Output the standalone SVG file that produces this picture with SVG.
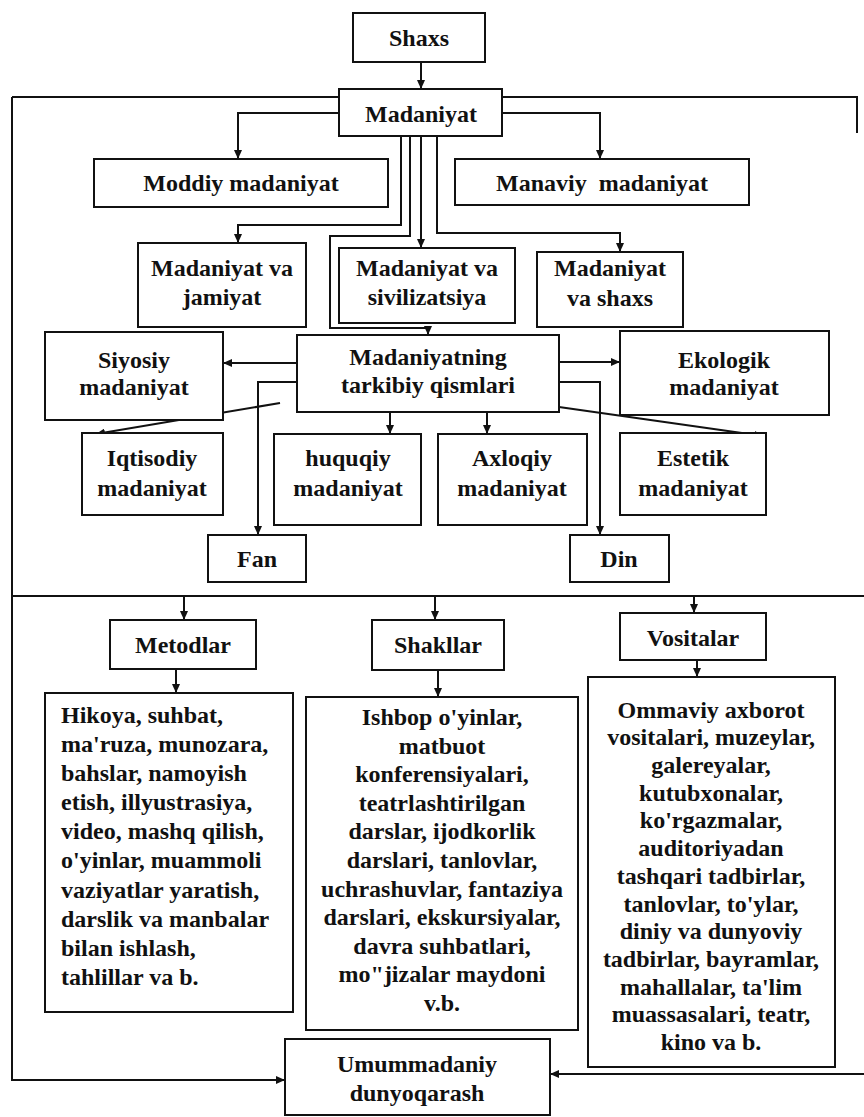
<svg xmlns="http://www.w3.org/2000/svg" width="864" height="1117" viewBox="0 0 864 1117">
<defs>
<marker id="ah" markerUnits="userSpaceOnUse" markerWidth="9" markerHeight="8" refX="9" refY="4" orient="auto">
<path d="M0,0 L9,4 L0,8 z" fill="#111"/>
</marker>
<style>
.b{fill:#fff;stroke:#111;stroke-width:2}
.t{font-family:"Liberation Serif","Times New Roman",serif;font-weight:bold;font-size:24px;fill:#111;text-anchor:middle}
.l{text-anchor:start}
.c{fill:none;stroke:#111;stroke-width:2}
.a{marker-end:url(#ah)}
</style>
</defs>
<rect width="864" height="1117" fill="#fff"/>
<g id="connectors">
<path class="c a" d="M421,62 V89"/>
<path class="c" d="M12,97 H339 M502,97 H857 V133"/>
<path class="c a" d="M12,97 V1080 H285"/>
<path class="c a" d="M339,113 H238 V159"/>
<path class="c a" d="M502,113 H600 V159"/>
<path class="c a" d="M401,136 V225 H238 V243"/>
<path class="c a" d="M410,136 V236 H330 V328 H428 V335"/>
<path class="c a" d="M421,136 V248"/>
<path class="c a" d="M437,136 V233 H620 V252"/>
<path class="c a" d="M297,363 H223"/>
<path class="c a" d="M559,362 H620"/>
<path class="c a" d="M297,382 H258 V535"/>
<path class="c a" d="M559,382 H600 V535"/>
<path class="c a" d="M280,403 L96,434"/>
<path class="c a" d="M559,407 L763,436"/>
<path class="c a" d="M390,412 V434"/>
<path class="c a" d="M487,412 V434"/>
<path class="c" d="M12,596 H864"/>
<path class="c a" d="M184,596 V620"/>
<path class="c a" d="M435,596 V620"/>
<path class="c a" d="M694,596 V613"/>
<path class="c a" d="M176,669 V693"/>
<path class="c a" d="M438,670 V697"/>
<path class="c a" d="M697,660 V677"/>
<path class="c a" d="M864,1074 H550"/>
</g>
<g id="shaxs"><rect class="b" x="353" y="13" width="132" height="49"/><text class="t" x="419" y="46">Shaxs</text></g>
<g id="madaniyat"><rect class="b" x="339" y="89" width="163" height="47"/><text class="t" x="421" y="122">Madaniyat</text></g>
<g id="moddiy"><rect class="b" x="94" y="159" width="294" height="48"/><text class="t" x="241" y="191">Moddiy madaniyat</text></g>
<g id="manaviy"><rect class="b" x="455" y="159" width="294" height="46"/><text class="t" x="602" y="191" style="white-space:pre">Manaviy  madaniyat</text></g>
<g id="jamiyat"><rect class="b" x="138" y="243" width="168" height="84"/><text class="t" x="222" y="276">Madaniyat va</text><text class="t" x="222" y="305">jamiyat</text></g>
<g id="sivilizatsiya"><rect class="b" x="339" y="248" width="176" height="75"/><text class="t" x="427" y="276">Madaniyat va</text><text class="t" x="427" y="305">sivilizatsiya</text></g>
<g id="mshaxs"><rect class="b" x="537" y="252" width="146" height="75"/><text class="t" x="610" y="276">Madaniyat</text><text class="t" x="610" y="306">va shaxs</text></g>
<g id="siyosiy"><rect class="b" x="45" y="332" width="178" height="88"/><text class="t" x="134" y="368">Siyosiy</text><text class="t" x="134" y="395">madaniyat</text></g>
<g id="tarkibiy"><rect class="b" x="297" y="335" width="262" height="77"/><text class="t" x="428" y="365">Madaniyatning</text><text class="t" x="428" y="393">tarkibiy qismlari</text></g>
<g id="ekologik"><rect class="b" x="620" y="331" width="209" height="84"/><text class="t" x="724" y="368">Ekologik</text><text class="t" x="724" y="395">madaniyat</text></g>
<g id="iqtisodiy"><rect class="b" x="82" y="433" width="141" height="82"/><text class="t" x="152" y="466">Iqtisodiy</text><text class="t" x="152" y="496">madaniyat</text></g>
<g id="huquqiy"><rect class="b" x="274" y="434" width="147" height="91"/><text class="t" x="348" y="466">huquqiy</text><text class="t" x="348" y="496">madaniyat</text></g>
<g id="axloqiy"><rect class="b" x="438" y="434" width="149" height="91"/><text class="t" x="512" y="466">Axloqiy</text><text class="t" x="512" y="496">madaniyat</text></g>
<g id="estetik"><rect class="b" x="620" y="433" width="146" height="82"/><text class="t" x="693" y="466">Estetik</text><text class="t" x="693" y="496">madaniyat</text></g>
<g id="fan"><rect class="b" x="208" y="535" width="98" height="47"/><text class="t" x="257" y="567">Fan</text></g>
<g id="din"><rect class="b" x="570" y="535" width="99" height="47"/><text class="t" x="619" y="567">Din</text></g>
<g id="metodlar"><rect class="b" x="110" y="620" width="146" height="49"/><text class="t" x="183" y="653">Metodlar</text></g>
<g id="shakllar"><rect class="b" x="372" y="620" width="132" height="50"/><text class="t" x="438" y="653">Shakllar</text></g>
<g id="vositalar"><rect class="b" x="620" y="613" width="146" height="47"/><text class="t" x="693" y="646">Vositalar</text></g>
<g id="metodlar-list"><rect class="b" x="45" y="693" width="248" height="319"/>
<text class="t l" x="61" y="723">Hikoya, suhbat,</text>
<text class="t l" x="61" y="752">ma'ruza, munozara,</text>
<text class="t l" x="61" y="781">bahslar, namoyish</text>
<text class="t l" x="61" y="810">etish, illyustrasiya,</text>
<text class="t l" x="61" y="839">video, mashq qilish,</text>
<text class="t l" x="61" y="868">o'yinlar, muammoli</text>
<text class="t l" x="61" y="898">vaziyatlar yaratish,</text>
<text class="t l" x="61" y="927">darslik va manbalar</text>
<text class="t l" x="61" y="956">bilan ishlash,</text>
<text class="t l" x="61" y="985">tahlillar va b.</text>
</g>
<g id="shakllar-list"><rect class="b" x="306" y="697" width="272" height="333"/>
<text class="t" x="442" y="725">Ishbop o'yinlar,</text>
<text class="t" x="442" y="754">matbuot</text>
<text class="t" x="442" y="782">konferensiyalari,</text>
<text class="t" x="442" y="811">teatrlashtirilgan</text>
<text class="t" x="442" y="839">darslar, ijodkorlik</text>
<text class="t" x="442" y="868">darslari, tanlovlar,</text>
<text class="t" x="442" y="897">uchrashuvlar, fantaziya</text>
<text class="t" x="442" y="925">darslari, ekskursiyalar,</text>
<text class="t" x="442" y="954">davra suhbatlari,</text>
<text class="t" x="442" y="982">mo"jizalar maydoni</text>
<text class="t" x="442" y="1011">v.b.</text>
</g>
<g id="vositalar-list"><rect class="b" x="588" y="677" width="247" height="390"/>
<text class="t" x="711" y="718">Ommaviy axborot</text>
<text class="t" x="711" y="745">vositalari, muzeylar,</text>
<text class="t" x="711" y="773">galereyalar,</text>
<text class="t" x="711" y="801">kutubxonalar,</text>
<text class="t" x="711" y="828">ko'rgazmalar,</text>
<text class="t" x="711" y="856">auditoriyadan</text>
<text class="t" x="711" y="884">tashqari tadbirlar,</text>
<text class="t" x="711" y="912">tanlovlar, to'ylar,</text>
<text class="t" x="711" y="939">diniy va dunyoviy</text>
<text class="t" x="711" y="967">tadbirlar, bayramlar,</text>
<text class="t" x="711" y="995">mahallalar, ta'lim</text>
<text class="t" x="711" y="1022">muassasalari, teatr,</text>
<text class="t" x="711" y="1050">kino va b.</text>
</g>
<g id="umummadaniy"><rect class="b" x="285" y="1039" width="265" height="76"/><text class="t" x="417" y="1072">Umummadaniy</text><text class="t" x="417" y="1101">dunyoqarash</text></g>
</svg>
